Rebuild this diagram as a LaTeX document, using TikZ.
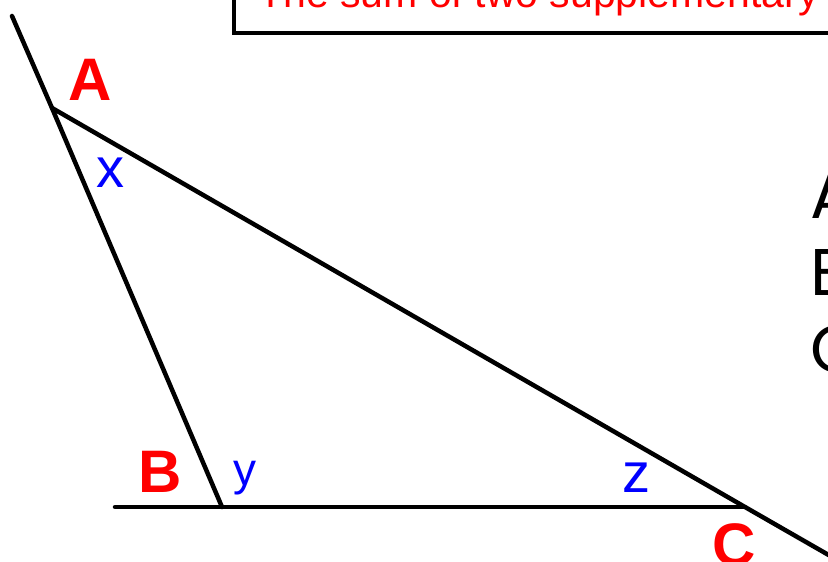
\documentclass[tikz,border=0pt]{standalone}
\usepackage{fontspec}
\setmainfont{Liberation Sans}
\newfontfamily\geofont{Poppins}
\tikzset{
  sideline/.style={line width=4.5pt, line cap=round},
  vlabel/.style={text=red, font=\fontsize{60}{60}\selectfont\bfseries, inner sep=0pt},
  alabel/.style={text=blue, font=\fontsize{56}{56}\selectfont, inner sep=0pt},
  rlabel/.style={font=\geofont\fontsize{66}{66}\selectfont, inner sep=0pt, anchor=base west}
}

\begin{document}
\begin{tikzpicture}[x=1pt, y=-1pt]
    \useasboundingbox (0,0) rectangle (828,562);
    \clip (0,0) rectangle (828,562);
    \coordinate (A) at (52,108);
    \coordinate (B) at (222,507);
    \coordinate (C) at (745,507);
    \coordinate (ABext) at (12,16);
    \coordinate (BCext) at (115,507);
    \coordinate (ACext) at (860,573);
    \draw[line width=4.5pt] (234,-20) rectangle (860,33);
    \node[anchor=base west, inner sep=0pt, text=red, font=\fontsize{41}{41}\selectfont] (title) at (258,8) {The sum of two supplementary};
    \draw[sideline] (ABext) -- (A) -- (B);
    \draw[sideline] (BCext) -- (C);
    \draw[sideline] (A) -- (C) -- (ACext);
    \node[vlabel] (lA) at (90,80) {A};
    \node[vlabel] (lB) at (160,472) {B};
    \node[vlabel] (lC) at (734,545) {C};
    \node[alabel] (lx) at (110,173) {x};
    \node[alabel, font=\fontsize{46}{46}\selectfont] (ly) at (245,478) {y};
    \node[alabel] (lz) at (636,478) {z};
    \node[rlabel] (rA) at (810,218) {A};
    \node[rlabel] (rB) at (810,295) {B};
    \node[rlabel] (rC) at (810,372) {C};
  \end{tikzpicture}
\end{document}
